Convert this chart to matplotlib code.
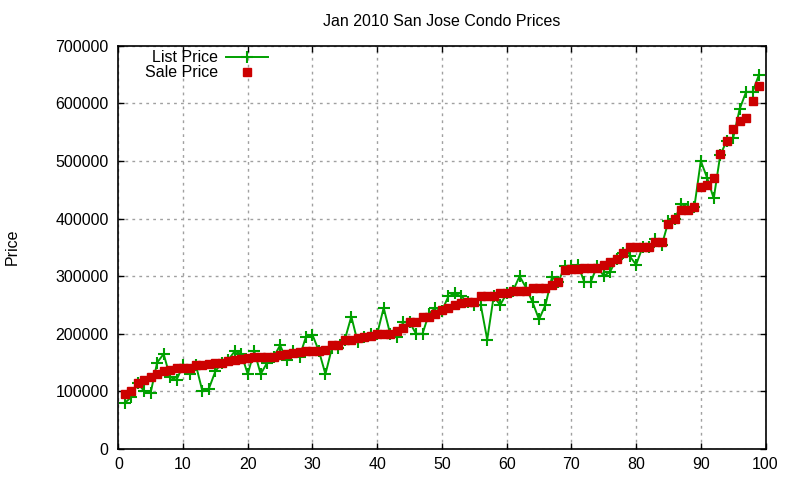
import matplotlib
matplotlib.use("Agg")
import matplotlib.pyplot as plt

plt.rcParams['font.family'] = ['Liberation Sans', 'DejaVu Sans']

idx = list(range(1, 100))
sale_price = [95000, 100000, 115000, 120000, 125000, 130000, 135000, 137000, 140000, 140000,
              140000, 145000, 145000, 148000, 150000, 150000, 153000, 155000, 157000, 158000,
              160000, 160000, 160000, 160000, 163000, 165000, 167000, 168000, 170000, 170000,
              170000, 172000, 180000, 180000, 190000, 190000, 192000, 195000, 197000, 200000,
              200000, 200000, 205000, 210000, 220000, 220000, 230000, 230000, 235000, 242000,
              245000, 250000, 253000, 255000, 255000, 265000, 265000, 265000, 270000, 270000,
              275000, 275000, 275000, 280000, 280000, 280000, 285000, 290000, 310000, 312000,
              312000, 315000, 315000, 315000, 320000, 325000, 330000, 340000, 350000, 350000,
              350000, 350000, 360000, 360000, 390000, 400000, 415000, 415000, 420000, 455000,
              458000, 470000, 512000, 535000, 555000, 570000, 575000, 605000, 630000]
list_price = [80000, 90000, 115000, 100000, 98000, 150000, 165000, 125000, 120000, 145000,
              130000, 145000, 100000, 105000, 135000, 150000, 155000, 170000, 165000, 130000,
              170000, 130000, 150000, 160000, 180000, 155000, 170000, 160000, 195000, 198000,
              170000, 130000, 175000, 175000, 190000, 230000, 185000, 195000, 200000, 200000,
              245000, 200000, 195000, 220000, 220000, 200000, 200000, 235000, 245000, 240000,
              265000, 270000, 265000, 255000, 250000, 250000, 190000, 265000, 250000, 270000,
              275000, 300000, 280000, 255000, 225000, 250000, 298000, 290000, 318000, 318000,
              320000, 290000, 290000, 318000, 300000, 308000, 330000, 340000, 335000, 320000,
              350000, 350000, 365000, 355000, 395000, 400000, 425000, 420000, 420000, 500000,
              470000, 435000, 510000, 535000, 540000, 590000, 620000, 620000, 650000]

FS = 11.5
fig = plt.figure(figsize=(8, 4.8), dpi=100)
ax = fig.add_axes([0.1479, 0.0646, 0.809, 0.840])

ax.plot(idx, list_price, color='#00a000', lw=1.4, marker='+', ms=8, mew=1.5,
        label='List Price', zorder=2)
ax.plot(idx, sale_price, color='#cc0000', lw=0, marker='s', ms=6.2,
        label='Sale Price', zorder=3)

ax.set_xlim(0, 100)
ax.set_ylim(0, 700000)
ax.set_xticks(range(0, 101, 10))
ax.set_yticks(range(0, 700001, 100000))
ax.ticklabel_format(style='plain', axis='y')
ax.tick_params(direction='in', top=True, right=True, length=4, labelsize=FS, width=1)
ax.tick_params(axis='y', pad=7)
ax.tick_params(axis='x', pad=6)
ax.grid(True, color='#a0a0a0', linestyle=(0, (2, 3)), lw=1)
for s in ax.spines.values():
    s.set_linewidth(1.2)

ax.set_title('Jan 2010 San Jose Condo Prices', fontsize=FS, pad=14)
fig.text(0.015, 0.485, 'Price', rotation=90, fontsize=FS, va='center', ha='center')

ax.legend(loc='upper right', bbox_to_anchor=(0.231, 0.989), frameon=False, markerfirst=False,
          fontsize=FS, handlelength=2.6, handletextpad=0.5, labelspacing=0.0,
          borderpad=0, borderaxespad=0)

fig.savefig('out.png', dpi=100)
